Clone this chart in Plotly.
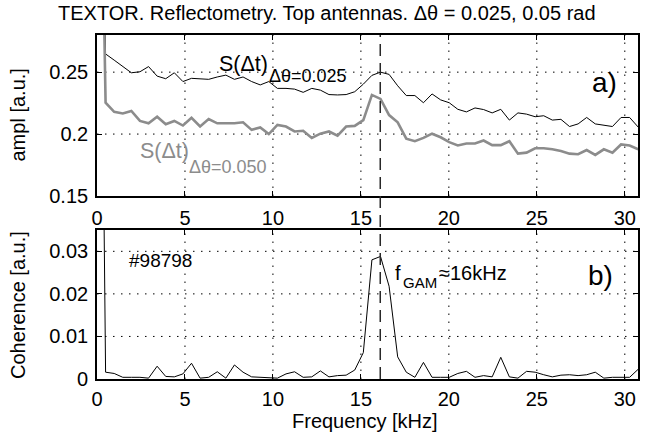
import plotly.graph_objects as go

# Frequency grid (kHz), uniform spectral sampling
df = 0.4883
freq = [round(i * df, 4) for i in range(64)]

# Panel a) amplitude, Δθ = 0.025 rad (black)
ampl_025 = [0.62,
    0.2647, 0.2597, 0.2547, 0.2495, 0.2503, 0.2545, 0.2468, 0.2447, 0.2495, 0.2424,
    0.2450, 0.2447, 0.2442, 0.2461, 0.2476, 0.2442, 0.2461, 0.2424, 0.2397, 0.2424,
    0.2369, 0.2369, 0.2363, 0.2337, 0.2369, 0.2355, 0.2319, 0.2316, 0.2319, 0.2342,
    0.2403, 0.2474, 0.2500, 0.2482, 0.2390, 0.2311, 0.2311, 0.2253, 0.2324, 0.2276,
    0.2253, 0.2200, 0.2179, 0.2211, 0.2198, 0.2171, 0.2200, 0.2113, 0.2171, 0.2161,
    0.2140, 0.2148, 0.2113, 0.2119, 0.2061, 0.2082, 0.2134, 0.2082, 0.2074, 0.2061,
    0.2134, 0.2134, 0.2056]

# Panel a) amplitude, Δθ = 0.050 rad (grey)
ampl_050 = [0.62,
    0.2253, 0.2179, 0.2166, 0.2187, 0.2106, 0.2087, 0.2140, 0.2079, 0.2106, 0.2069,
    0.2132, 0.2061, 0.2121, 0.2087, 0.2087, 0.2087, 0.2095, 0.2034, 0.2053, 0.2000,
    0.2074, 0.2061, 0.2021, 0.2027, 0.1969, 0.2003, 0.2021, 0.1987, 0.2061, 0.2066,
    0.2113, 0.2316, 0.2284, 0.2153, 0.2095, 0.1963, 0.1942, 0.1969, 0.2003, 0.1974,
    0.1935, 0.1908, 0.1924, 0.1924, 0.1948, 0.1911, 0.1911, 0.1942, 0.1842, 0.1850,
    0.1885, 0.1885, 0.1877, 0.1863, 0.1842, 0.1837, 0.1871, 0.1832, 0.1877, 0.1850,
    0.1916, 0.1908, 0.1877]

# Panel b) coherence
coherence = [0.2,
    0.0016, 0.0013, 0.0004, 0.0004, 0.0004, 0.0002, 0.0030, 0.0006, 0.0005, 0.0012,
    0.0037, 0.0002, 0.0004, 0.0017, 0.0002, 0.0033, 0.0016, 0.0005, 0.0004, 0.0002,
    0.0002, 0.0012, 0.0017, 0.0004, 0.0005, 0.0019, 0.0005, 0.0008, 0.0009, 0.0021,
    0.0062, 0.0280, 0.0288, 0.0218, 0.0052, 0.0016, 0.0004, 0.0039, 0.0004, 0.0004,
    0.0004, 0.0013, 0.0018, 0.0004, 0.0008, 0.0005, 0.0051, 0.0005, 0.0002, 0.0018,
    0.0016, 0.0010, 0.0005, 0.0009, 0.0010, 0.0008, 0.0010, 0.0016, 0.0002, 0.0004,
    0.0004, 0.0004, 0.0023]

f_gam = 16.1
x_ticks = [0, 5, 10, 15, 20, 25, 30]
ya_ticks = [0.15, 0.2, 0.25]
yb_ticks = [0, 0.01, 0.02, 0.03]

FONT = "Liberation Sans, Arial, Helvetica, sans-serif"
GREY = "rgb(140,140,140)"

fig = go.Figure()
fig.add_trace(go.Scatter(x=freq, y=ampl_025, mode="lines",
                         line=dict(color="black", width=1), xaxis="x", yaxis="y"))
fig.add_trace(go.Scatter(x=freq, y=ampl_050, mode="lines",
                         line=dict(color=GREY, width=2.6), xaxis="x", yaxis="y"))
fig.add_trace(go.Scatter(x=freq, y=coherence, mode="lines",
                         line=dict(color="black", width=1), xaxis="x2", yaxis="y2"))

axis_common = dict(
    showline=True, linecolor="black", linewidth=1.6, mirror="ticks",
    ticks="inside", ticklen=5, tickwidth=1, tickcolor="black",
    showgrid=False, zeroline=False,
    tickfont=dict(family=FONT, size=20, color="black"),
)

fig.update_layout(
    width=651, height=439, template="none",
    margin=dict(l=97, r=13, t=35, b=60),
    paper_bgcolor="white", plot_bgcolor="white",
    showlegend=False,
    font=dict(family=FONT, color="black"),
    xaxis=dict(domain=[0, 1], range=[0, 30.75], tickvals=x_ticks, anchor="y",
               ticklabelstandoff=3, **axis_common),
    yaxis=dict(domain=[0.532, 1], range=[0.15, 0.28], tickvals=ya_ticks, anchor="x",
               ticklabelstandoff=3, **axis_common),
    xaxis2=dict(domain=[0, 1], range=[0, 30.75], tickvals=x_ticks, anchor="y2",
                ticklabelstandoff=1, **axis_common),
    yaxis2=dict(domain=[0, 0.433], range=[0, 0.035], tickvals=yb_ticks, anchor="x2",
                ticklabelstandoff=3, **axis_common),
)

# Sparse dotted grid (MATLAB style), drawn beneath the data
GRID = dict(color="black", width=1, dash="1.5px,6.5px")
for xr, yr in (("x", "y"), ("x2", "y2")):
    for xv in x_ticks[1:]:
        fig.add_shape(type="line", xref=xr, yref=yr + " domain", x0=xv, x1=xv, y0=0, y1=1,
                      line=GRID, layer="below")
for yv in ya_ticks[1:]:
    fig.add_shape(type="line", xref="x domain", yref="y", x0=0, x1=1, y0=yv, y1=yv,
                  line=GRID, layer="below")
for yv in yb_ticks[1:]:
    fig.add_shape(type="line", xref="x2 domain", yref="y2", x0=0, x1=1, y0=yv, y1=yv,
                  line=GRID, layer="below")

# Dashed marker of the GAM frequency across both panels
fig.add_shape(type="line", xref="x", yref="paper", x0=f_gam, x1=f_gam, y0=0, y1=1,
              line=dict(color="rgb(40,40,40)", width=1.5, dash="12px,7px"))

def ann(text, x, y, size, color="black", xref="x", yref="y", xanchor="left", angle=0):
    fig.add_annotation(text=text, x=x, y=y, xref=xref, yref=yref, xanchor=xanchor,
                       yanchor="middle", showarrow=False, textangle=angle,
                       font=dict(family=FONT, size=size, color=color))

ann("TEXTOR. Reflectometry. Top antennas. Δθ = 0.025, 0.05 rad", -0.076, 1.064, 20,
    xref="paper", yref="paper")
ann("S(Δt)", 6.82, 0.2567, 21.5)
ann("Δθ=0.025", 9.65, 0.2472, 18)
ann("S(Δt)", 2.33, 0.1861, 21.5, color=GREY)
ann("Δθ=0.050", 5.10, 0.1734, 18, color=GREY)
ann("a)", 28.0, 0.2417, 28)
ann("#98798", 1.70, 0.0278, 19, xref="x2", yref="y2")
ann("b)", 27.8, 0.02425, 28, xref="x2", yref="y2")
ann("f", 16.82, 0.0250, 20, xref="x2", yref="y2")
ann("GAM", 17.27, 0.0227, 15, xref="x2", yref="y2")
ann("≈16kHz", 19.32, 0.0250, 20, xref="x2", yref="y2")
ann("ampl [a.u.]", -0.146, 0.766, 20, xref="paper", yref="paper", xanchor="center", angle=-90)
ann("Coherence [a.u.]", -0.146, 0.215, 20, xref="paper", yref="paper", xanchor="center", angle=-90)
ann("Frequency [kHz]", 0.495, -0.122, 20, xref="paper", yref="paper", xanchor="center")

fig.write_html("out.html", config={"displayModeBar": False},
               post_script="document.body.style.margin='0';document.body.style.padding='0';")
